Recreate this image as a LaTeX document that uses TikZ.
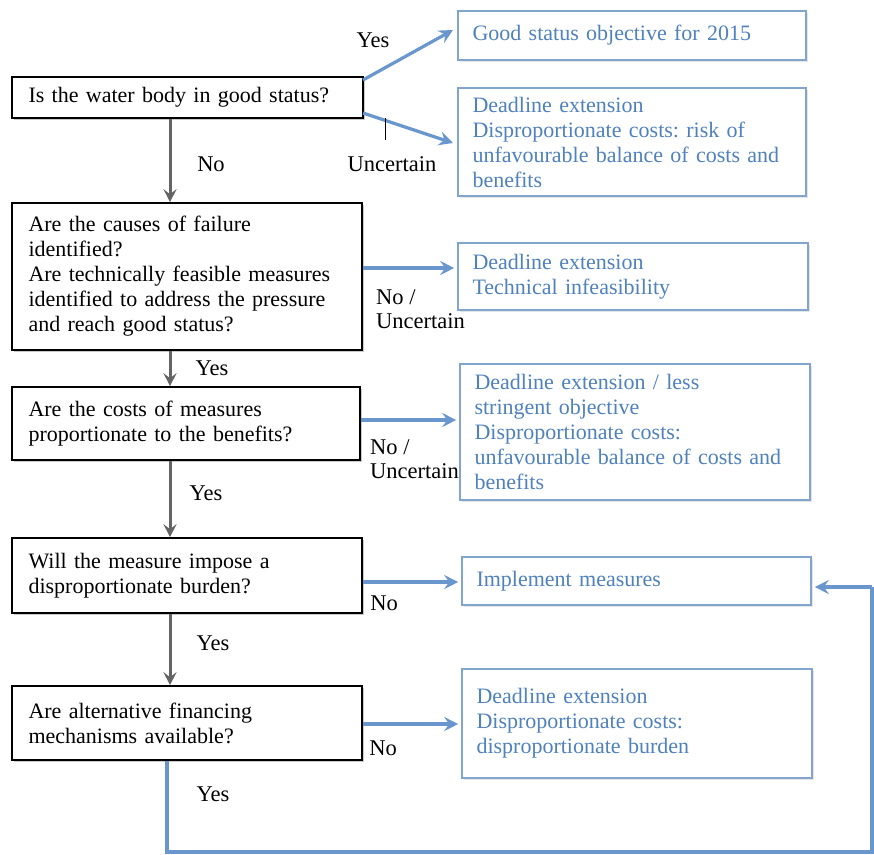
\documentclass[tikz,border=0pt]{standalone}
\usepackage{fontspec}
\setmainfont{Liberation Serif}
\frenchspacing
\usetikzlibrary{arrows.meta,shadows}
\definecolor{qblue}{RGB}{79,129,189}
\definecolor{bborder}{RGB}{130,165,208}
\definecolor{barrow}{RGB}{105,150,205}
\definecolor{garrow}{RGB}{100,100,100}
\tikzset{
  qbox/.style={draw=black, line width=1.6pt, fill=white, align=left, inner xsep=16pt, inner ysep=0pt,
     drop shadow={shadow xshift=2pt, shadow yshift=-2pt, fill=black!35, opacity=0.6},
     font=\fontsize{22}{25}\selectfont},
  abox/.style={draw=bborder, line width=1.6pt, fill=white, align=left, inner xsep=14pt, inner ysep=0pt,
     text=qblue, drop shadow={shadow xshift=1.5pt, shadow yshift=-1.5pt, fill=black!20, opacity=0.5},
     font=\fontsize{22}{25}\selectfont},
  lbl/.style={font=\fontsize{22.5}{24}\selectfont, align=left, inner sep=0pt},
  garr/.style={draw=garrow, line width=3pt, -{Stealth[length=13pt,width=13pt,inset=5pt]}},
  barr/.style={draw=barrow, line width=3.2pt, -{Stealth[length=14pt,width=14pt,inset=5pt]}},
  bline/.style={draw=barrow, line width=3.2pt},
}
\begin{document}
\begin{tikzpicture}[x=1pt,y=-1pt]
\useasboundingbox (0,0) rectangle (874,854);
% question boxes
\node[qbox, minimum width=351pt, minimum height=41pt, text width=318pt] (B1) at (187.5,97.5) {Is the water body in good status?};
\node[qbox, minimum width=350pt, minimum height=147pt, text width=317pt] (B2) at (187,276.5) {Are the causes of failure\\identified?\\Are technically feasible measures\\identified to address the pressure\\and reach good status?};
\node[qbox, minimum width=348pt, minimum height=73pt, text width=315pt] (B3) at (186,423.5) {Are the costs of measures\\proportionate to the benefits?};
\node[qbox, minimum width=350pt, minimum height=75pt, text width=317pt] (B4) at (187,575.5) {Will the measure impose a\\disproportionate burden?};
\node[qbox, minimum width=350pt, minimum height=74pt, text width=317pt] (B5) at (187,723) {Are alternative financing\\mechanisms available?};
% answer boxes
\node[abox, minimum width=348pt, minimum height=49pt, text width=319pt] (R1) at (632,35.5) {Good status objective for 2015};
\node[abox, minimum width=348pt, minimum height=108pt, text width=319pt] (R2) at (632,142) {Deadline extension\\Disproportionate costs: risk of\\unfavourable balance of costs and\\benefits};
\node[abox, minimum width=350pt, minimum height=67pt, text width=321pt] (R3) at (633,276.5) {Deadline extension\\Technical infeasibility};
\node[abox, minimum width=350pt, minimum height=136pt, text width=321pt] (R4) at (635,432) {Deadline extension / less\\stringent objective\\Disproportionate costs:\\unfavourable balance of costs and\\benefits};
\node[abox, minimum width=349pt, minimum height=48pt, text width=320pt] (R5) at (636.5,581) {Implement measures};
\node[abox, minimum width=350pt, minimum height=109pt, text width=321pt] (R6) at (637,723.5) {Deadline extension\\Disproportionate costs:\\disproportionate burden};
% vertical gray arrows
\coordinate (vx) at (170,0);
\draw[garr] (B1.south -| vx) -- (B2.north -| vx);
\draw[garr] (B2.south -| vx) -- (B3.north -| vx);
\draw[garr] (B3.south -| vx) -- (B4.north -| vx);
\draw[garr] (B4.south -| vx) -- (B5.north -| vx);
% blue arrows
\coordinate (a1) at (363,80);
\coordinate (a2) at (363,113);
\coordinate (y3) at (0,268);
\coordinate (y4) at (0,420);
\coordinate (y5) at (0,582);
\coordinate (y6) at (0,724);
\draw[barr] (a1) -- (453,30);
\draw[barr] (a2) -- (453,143);
\draw[barr] (B2.east |- y3) -- ([xshift=-3pt]R3.west |- y3);
\draw[barr] (B3.east |- y4) -- ([xshift=-3pt]R4.west |- y4);
\draw[barr] (B4.east |- y5) -- ([xshift=-3pt]R5.west |- y5);
\draw[barr] (B5.east |- y6) -- ([xshift=-3pt]R6.west |- y6);
% feedback loop
\coordinate (f1) at (167,852);
\coordinate (f2) at (872,852);
\coordinate (f3) at (872,587);
\draw[bline] (B5.south -| f1) -- (f1) -- (f2) -- (f3);
\draw[barr] (f3) -- ([xshift=3pt]R5.east |- f3);
% tick
\draw[black, line width=1pt] (385,118) -- (385,140);
% labels
\node[lbl] (l1) at (373,40) {Yes};
\node[lbl] (l2) at (392,164) {Uncertain};
\node[lbl] (l3) at (211,164) {No};
\node[lbl, anchor=west] (l4) at (376,309) {No /\\Uncertain};
\node[lbl] (l5) at (212,368) {Yes};
\node[lbl, anchor=west] (l6) at (370,459) {No /\\Uncertain};
\node[lbl] (l7) at (206,493) {Yes};
\node[lbl] (l8) at (384,603) {No};
\node[lbl] (l9) at (213,643) {Yes};
\node[lbl] (l10) at (383,748) {No};
\node[lbl] (l11) at (213,794) {Yes};
\end{tikzpicture}
\end{document}
